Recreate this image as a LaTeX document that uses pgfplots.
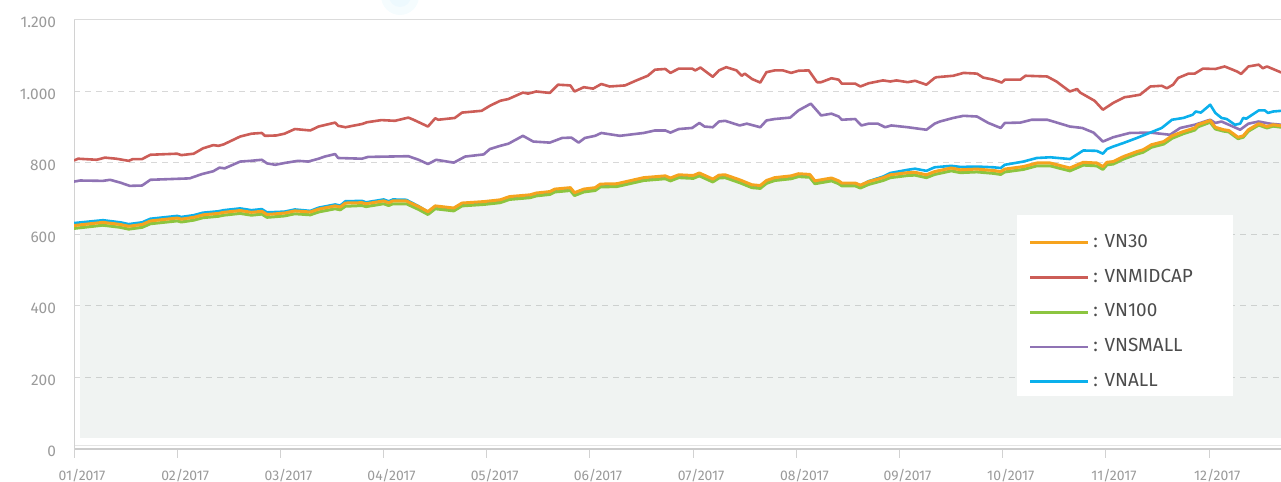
\documentclass[border=0pt]{standalone}
\usepackage{pgfplots}
\pgfplotsset{compat=1.18}
\usepackage{pgfplotstable}
\usepgfplotslibrary{fillbetween}
\usepackage{fontspec}
\setmainfont{Fira Sans}
\definecolor{cthirty}{HTML}{F6A31E}
\definecolor{cmid}{HTML}{CC5D57}
\definecolor{chundred}{HTML}{8CC540}
\definecolor{csmall}{HTML}{8F73B4}
\definecolor{call}{HTML}{0BB0EC}
\definecolor{cgrid}{HTML}{D8D8D8}
\definecolor{caxis}{HTML}{D2D2D2}
\definecolor{ctick}{HTML}{9A9A9A}
\definecolor{cfill}{HTML}{708C80}

\pgfplotstableread{
x y
0.00 807
0.04 812
0.22 809
0.30 815
0.41 812
0.53 806
0.57 811
0.66 811
0.74 823
1.00 826
1.04 822
1.16 826
1.25 841
1.35 850
1.40 848
1.45 852
1.61 874
1.72 882
1.82 884
1.85 876
1.96 877
2.04 882
2.14 895
2.29 891
2.37 902
2.53 913
2.56 904
2.63 900
2.79 909
2.84 914
2.98 920
3.11 918
3.24 927
3.29 921
3.43 902
3.50 925
3.53 921
3.69 926
3.76 941
3.95 946
4.03 960
4.13 974
4.21 979
4.35 997
4.40 994
4.48 1000
4.61 996
4.69 1019
4.81 1017
4.85 1000
4.94 1012
5.03 1008
5.11 1021
5.19 1014
5.34 1017
5.45 1031
5.56 1044
5.63 1061
5.73 1063
5.78 1052
5.86 1064
5.99 1064
6.02 1059
6.07 1067
6.19 1041
6.25 1059
6.32 1068
6.42 1059
6.47 1044
6.50 1050
6.57 1035
6.65 1025
6.71 1054
6.79 1059
6.87 1059
6.95 1052
7.02 1058
7.12 1059
7.20 1026
7.24 1026
7.34 1037
7.41 1033
7.44 1022
7.57 1022
7.62 1014
7.70 1023
7.84 1031
7.91 1028
7.97 1031
8.08 1026
8.15 1030
8.26 1019
8.34 1038
8.36 1040
8.52 1044
8.62 1052
8.75 1050
8.81 1039
8.91 1033
8.99 1025
9.02 1033
9.17 1033
9.22 1044
9.43 1042
9.52 1028
9.65 1000
9.72 1007
9.75 997
9.89 974
9.97 949
10.07 968
10.18 984
10.23 986
10.33 991
10.43 1014
10.54 1016
10.59 1009
10.65 1019
10.70 1038
10.80 1050
10.86 1050
10.94 1064
11.06 1063
11.15 1070
11.27 1056
11.31 1049
11.38 1070
11.48 1075
11.52 1065
11.56 1070
11.70 1053
}\tmid

\pgfplotstableread{
x y
0.00 748
0.06 751
0.28 750
0.35 753
0.45 745
0.54 736
0.66 737
0.74 753
1.12 757
1.24 769
1.35 777
1.41 787
1.46 785
1.61 804
1.71 806
1.82 809
1.87 799
1.95 795
2.04 800
2.17 806
2.27 804
2.37 812
2.43 818
2.53 825
2.56 814
2.79 812
2.85 817
3.24 819
3.34 809
3.43 797
3.51 809
3.68 801
3.79 818
3.97 824
4.03 839
4.13 848
4.21 854
4.35 876
4.45 860
4.61 857
4.73 870
4.82 871
4.89 857
4.95 870
5.05 876
5.11 884
5.29 876
5.52 884
5.63 891
5.73 891
5.78 885
5.86 895
5.99 898
6.06 912
6.11 902
6.19 900
6.25 916
6.31 918
6.45 905
6.52 910
6.65 900
6.71 919
6.79 923
6.94 927
7.02 947
7.14 966
7.24 933
7.34 938
7.41 930
7.44 921
7.57 923
7.63 905
7.70 910
7.79 910
7.86 900
7.92 905
8.08 900
8.26 893
8.34 910
8.39 916
8.52 926
8.62 932
8.75 930
8.86 912
8.98 898
9.02 912
9.17 913
9.28 921
9.43 921
9.49 916
9.65 902
9.77 898
9.88 885
9.97 860
10.07 872
10.23 884
10.43 885
10.62 879
10.72 898
10.86 907
11.01 921
11.06 912
11.12 916
11.30 893
11.38 910
11.48 916
11.59 910
11.70 907
}\tsmall

\pgfplotstableread{
x y
0.00 625
0.28 634
0.45 628
0.53 623
0.66 628
0.74 638
1.00 646
1.04 643
1.16 648
1.25 655
1.40 659
1.45 662
1.61 667
1.72 662
1.82 665
1.87 656
1.96 658
2.04 660
2.14 666
2.29 663
2.37 671
2.53 680
2.58 677
2.63 688
2.79 689
2.83 686
3.00 694
3.05 689
3.09 694
3.22 694
3.34 678
3.43 664
3.50 680
3.68 674
3.76 688
3.97 692
4.13 697
4.22 706
4.42 711
4.48 716
4.61 720
4.66 727
4.81 731
4.85 717
4.94 727
5.05 731
5.10 741
5.26 742
5.52 759
5.73 764
5.78 758
5.86 767
6.00 765
6.06 772
6.19 755
6.25 766
6.31 767
6.45 753
6.57 739
6.65 737
6.71 751
6.79 759
6.95 764
7.02 770
7.13 768
7.18 750
7.34 758
7.41 750
7.44 744
7.57 744
7.62 738
7.70 748
7.84 759
7.91 767
8.08 773
8.15 774
8.26 767
8.34 776
8.50 786
8.59 781
8.75 783
8.91 779
8.98 776
9.02 783
9.20 790
9.33 800
9.46 800
9.65 786
9.78 802
9.91 800
9.97 790
10.01 802
10.07 804
10.17 818
10.30 832
10.36 837
10.44 851
10.56 860
10.64 876
10.75 888
10.86 898
10.89 907
11.01 919
11.06 900
11.14 893
11.19 891
11.28 872
11.33 876
11.38 893
11.48 910
11.56 902
11.62 907
11.70 904
}\tthirty

\pgfplotstableread{
x y
0.00 617
0.28 626
0.45 620
0.53 615
0.66 620
0.74 630
1.00 638
1.04 635
1.16 640
1.25 647
1.40 651
1.45 654
1.61 659
1.72 654
1.82 657
1.87 648
1.96 650
2.04 652
2.14 658
2.29 655
2.37 663
2.53 672
2.58 669
2.63 679
2.79 681
2.83 678
3.00 686
3.05 681
3.09 686
3.22 686
3.34 670
3.43 656
3.50 672
3.68 666
3.76 680
3.97 684
4.13 689
4.22 698
4.42 703
4.48 708
4.61 712
4.66 719
4.81 723
4.85 709
4.94 719
5.05 723
5.10 733
5.26 734
5.52 751
5.73 756
5.78 750
5.86 759
6.00 757
6.06 764
6.19 747
6.25 758
6.31 759
6.45 745
6.57 731
6.65 729
6.71 743
6.79 751
6.95 756
7.02 762
7.13 760
7.18 742
7.34 750
7.41 742
7.44 736
7.57 736
7.62 730
7.70 740
7.84 751
7.91 759
8.08 765
8.15 766
8.26 759
8.34 768
8.50 778
8.59 773
8.75 775
8.91 771
8.98 768
9.02 775
9.20 782
9.33 792
9.46 792
9.65 778
9.78 794
9.91 792
9.97 782
10.01 795
10.07 797
10.17 811
10.30 825
10.36 830
10.44 844
10.56 853
10.64 869
10.75 882
10.86 892
10.89 901
11.01 914
11.06 895
11.14 889
11.19 887
11.28 868
11.33 872
11.38 889
11.48 906
11.56 898
11.62 903
11.70 900
}\thundred

\pgfplotstableread{
x y
0.00 632
0.28 640
0.45 634
0.53 629
0.66 634
0.74 644
1.00 652
1.04 649
1.16 654
1.25 661
1.40 665
1.45 668
1.61 673
1.72 668
1.82 671
1.87 662
1.96 663
2.04 664
2.14 670
2.29 666
2.37 675
2.53 684
2.58 681
2.63 693
2.79 694
2.83 690
3.00 698
3.05 693
3.09 698
3.22 697
3.34 679
3.43 663
3.50 679
3.68 672
3.76 686
3.97 690
4.13 695
4.22 703
4.42 708
4.48 713
4.61 718
4.66 724
4.81 729
4.85 715
4.94 725
5.05 729
5.10 739
5.26 740
5.52 757
5.73 762
5.78 756
5.86 765
6.00 763
6.06 770
6.19 753
6.25 764
6.31 765
6.45 751
6.57 737
6.65 735
6.71 749
6.79 757
6.95 762
7.02 767
7.13 765
7.18 747
7.34 755
7.41 748
7.44 742
7.57 743
7.62 737
7.70 749
7.84 762
7.91 772
8.08 781
8.15 784
8.26 778
8.34 788
8.50 792
8.59 789
8.75 790
8.91 788
8.98 786
9.02 795
9.20 804
9.33 814
9.46 816
9.65 811
9.78 835
9.91 834
9.97 826
10.01 839
10.07 846
10.17 856
10.30 870
10.43 885
10.54 898
10.64 921
10.75 926
10.84 935
10.87 944
10.92 941
11.01 963
11.06 940
11.12 926
11.17 923
11.25 907
11.30 910
11.33 926
11.36 924
11.48 947
11.54 947
11.57 940
11.62 944
11.70 946
}\tall

\pgfplotstableread{
x y
0.06 31
11.70 31
}\tbase

\begin{document}
\begin{tikzpicture}
\fill[cyan!4] (400bp,486bp) circle (19bp);
\fill[cyan!7] (400bp,486bp) circle (11bp);
\begin{axis}[
  at={(74bp,32bp)}, anchor=south west,
  scale only axis, width=1207bp, height=430bp,
  xmin=0, xmax=11.696, ymin=-2.8, ymax=1200,
  axis line style={draw=none},
  tick align=outside,
  major tick length=8bp,
  xtick={0,1,2,3,4,5,6,7,8,9,10,11},
  xticklabels={01/2017,02/2017,03/2017,04/2017,05/2017,06/2017,07/2017,08/2017,09/2017,10/2017,11/2017,12/2017},
  xtick pos=bottom,
  xtick style={draw=caxis, line width=1bp},
  xticklabel style={font=\fontsize{14}{15}\selectfont, text=ctick, inner ysep=1bp, text depth=0bp, xshift=8bp, yshift=-9.7bp},
  ytick={200,400,600,800,1000},
  yticklabels={200,400,600,800,1.000},
  extra y ticks={0,1200},
  extra y tick labels={0,1.200},
  extra y tick style={grid=none},
  ytick style={draw=none},
  ytick pos=left,
  yticklabel style={font=\fontsize{15.5}{16}\selectfont, text=ctick, xshift=-6.5bp, yshift=-2.5bp},
  ymajorgrids=true,
  grid style={draw=cgrid, line width=1bp, dash pattern=on 6bp off 5bp},
  legend style={at={(axis cs:9.25,601)}, anchor=north west, draw=none, fill=none,
    inner sep=0pt, row sep=21.7bp, column sep=4bp,
    font=\fontsize{19}{19}\selectfont, text=black!70,
    nodes={inner sep=0pt, text height=13bp, text depth=0bp}},
  legend cell align=left,
  legend image code/.code={\draw[#1] (0bp,-2bp) -- (57.6bp,-2bp);},
]
\addlegendimage{cthirty, line width=3bp}
\addlegendentry{: VN30}
\addlegendimage{cmid, line width=2.6bp}
\addlegendentry{: VNMIDCAP}
\addlegendimage{chundred, line width=3bp}
\addlegendentry{: VN100}
\addlegendimage{csmall, line width=2.6bp}
\addlegendentry{: VNSMALL}
\addlegendimage{call, line width=2.6bp}
\addlegendentry{: VNALL}
\addplot[name path=gpath, draw=none, forget plot] table[x=x,y=y] {\thundred};
\addplot[name path=bpath, draw=none, forget plot] table[x=x,y=y] {\tbase};
\addplot[fill=cfill, fill opacity=0.1, draw=none, forget plot]
  fill between[of=gpath and bpath, soft clip={domain=0.06:11.70}];
\draw[caxis, line width=1.3bp] (axis cs:0,-35) -- (axis cs:0,1200);
\draw[caxis!80, line width=1bp] (axis cs:0,1200) -- (axis cs:11.696,1200);
\draw[black!10, line width=1bp] (axis cs:0.01,8.4) -- (axis cs:11.696,8.4);
\draw[black!20, line width=2bp] (axis cs:0.01,-1.4) -- (axis cs:11.696,-1.4);
\addplot[cmid, line width=2.6bp, line join=round, forget plot] table[x=x,y=y] {\tmid};
\addplot[csmall, line width=2.6bp, line join=round, forget plot] table[x=x,y=y] {\tsmall};
\addplot[call, line width=2.6bp, line join=round, forget plot] table[x=x,y=y] {\tall};
\addplot[chundred, line width=3bp, line join=round, forget plot] table[x=x,y=y] {\thundred};
\addplot[cthirty, line width=3bp, line join=round, forget plot] table[x=x,y=y] {\tthirty};
\fill[white] (axis cs:9.138,654.5) rectangle (axis cs:11.231,148.2);
\end{axis}
\pgfresetboundingbox
\path[use as bounding box] (0,0) rectangle (1281bp,482bp);
\end{tikzpicture}
\end{document}
